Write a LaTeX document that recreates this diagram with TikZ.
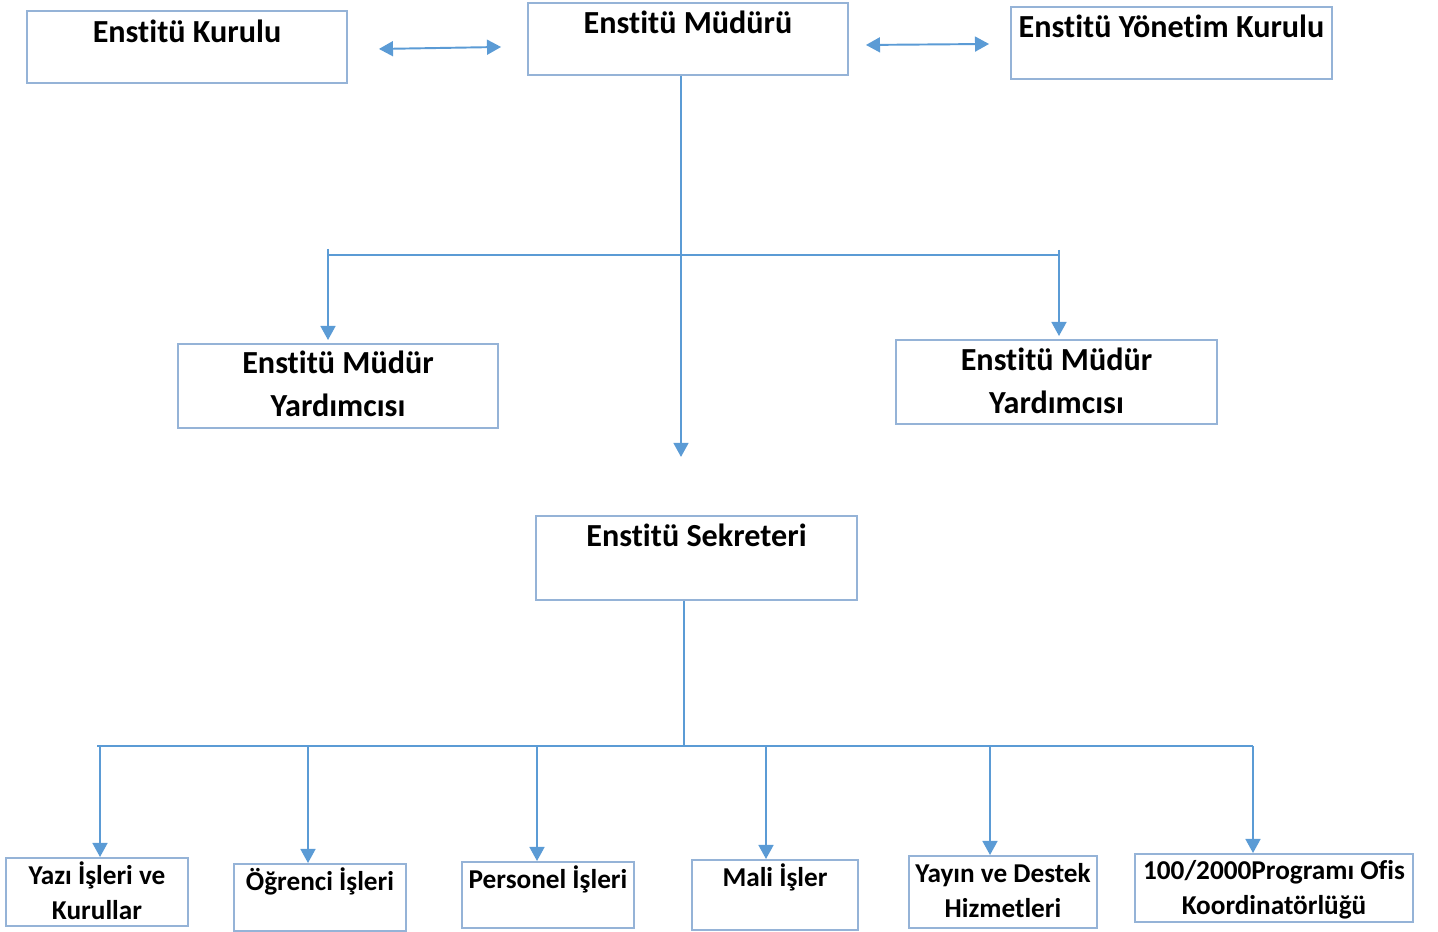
\documentclass[tikz,border=0pt]{standalone}
\usepackage{fontspec}
\setmainfont{Carlito}[Ligatures={NoCommon}]
\usetikzlibrary{positioning, arrows.meta, calc}
\definecolor{boxBlue}{HTML}{95B3D7}
\definecolor{arrowBlue}{HTML}{5B9BD5}
\tikzstyle{orgbox} =[draw=boxBlue, line width=1.1pt, inner sep=0pt, align=flush center, anchor=north, font=\bfseries\fontsize{18.3}{24}\selectfont]
\tikzstyle{unitbox} =[orgbox, font=\bfseries\fontsize{15.5}{19.5}\selectfont]
\tikzstyle{orgarrow} =[-{Triangle[length=8pt,width=8.5pt]}, line width=1.1pt, arrowBlue]
\tikzstyle{orgbiarrow} =[{Triangle[length=8pt,width=8.5pt]}-{Triangle[length=8pt,width=8.5pt]}, line width=1.1pt, arrowBlue]
\tikzstyle{orgline} =[line width=0.7pt, arrowBlue]

\begin{document}
\begin{tikzpicture}[x=0.02cm, y=-0.02cm]
\useasboundingbox (0,0) rectangle (1438,931);

\node (enstKurulu) [orgbox, text width=6.4cm, text height=0.64cm, text depth=0.8cm] at (187,10) {Enstitü Kurulu};
\node (enstMudur) [orgbox, text width=6.4cm, text height=0.62cm, text depth=0.82cm] at (688,2) {Enstitü Müdürü};
\node (enstYonetim) [orgbox, text width=6.42cm, text height=0.62cm, text depth=0.82cm] at (1171.5,6) {Enstitü Yönetim Kurulu};

\draw[orgbiarrow] ($(enstKurulu.east)+(31,2)$) -- ($(enstMudur.west)+(-26,8)$);
\draw[orgbiarrow] ($(enstMudur.east)+(17,6)$) -- ($(enstYonetim.west)+(-21,1)$);

\node (yardLeft) [orgbox, text width=6.4cm, text height=0.6cm, text depth=1.08cm] at (338,343) {Enstitü Müdür\\Yardımcısı};
\node (yardRight) [orgbox, text width=6.42cm, text height=0.62cm, text depth=1.06cm] at (1056.5,339) {Enstitü Müdür\\Yardımcısı};
\node (sekreter) [orgbox, text width=6.42cm, text height=0.62cm, text depth=1.06cm] at (696.5,515) {Enstitü Sekreteri};

\coordinate (split) at ($(enstMudur.south)+(-7,179)$);
\coordinate (mudurEnd) at ($(split)+(0,202)$);
\draw[orgarrow] (enstMudur.south -| split) -- (mudurEnd);
\draw[orgline] ($(yardLeft.north |- split)+(-10,0)$) -- ($(yardRight.north |- split)+(2.5,0)$);
\draw[orgarrow] ($(yardLeft.north |- split)+(-10,-6)$) -- ($(yardLeft.north)+(-10,-3)$);
\draw[orgarrow] ($(yardRight.north |- split)+(2.5,-5)$) -- ($(yardRight.north)+(2.5,-3)$);

\node (yaziIsleri) [unitbox, text width=3.64cm, text height=0.54cm, text depth=0.82cm] at (97,857) {Yazı İşleri ve\\Kurullar};
\node (ogrenciIsleri) [unitbox, text width=3.44cm, text height=0.54cm, text depth=0.8cm] at (320,863) {Öğrenci İşleri};
\node (personelIsleri) [unitbox, text width=3.44cm, text height=0.54cm, text depth=0.78cm] at (548,861) {Personel İşleri};
\node (maliIsler) [unitbox, text width=3.32cm, text height=0.54cm, text depth=0.86cm] at (775,859) {Mali İşler};
\node (yayinHizmet) [unitbox, text width=3.76cm, text height=0.54cm, text depth=0.9cm] at (1003,855) {Yayın ve Destek\\Hizmetleri};
\node (ofisKoord) [unitbox, text width=5.56cm, text height=0.52cm, text depth=0.84cm] at (1274,853) {100/2000Programı Ofis\\Koordinatörlüğü};

\coordinate (hub) at ($(sekreter.south)+(-12.5,145)$);
\draw[orgline] (sekreter.south -| hub) -- (hub);
\draw[orgline] (yaziIsleri.north |- hub) -- ($(ofisKoord.north |- hub)+(-21,0)$);
\draw[orgarrow] ($(yaziIsleri.north |- hub)+(3,0)$) -- ($(yaziIsleri.north)+(3,0)$);
\draw[orgarrow] ($(ogrenciIsleri.north |- hub)+(-12,0)$) -- ($(ogrenciIsleri.north)+(-12,0)$);
\draw[orgarrow] ($(personelIsleri.north |- hub)+(-11,0)$) -- ($(personelIsleri.north)+(-11,0)$);
\draw[orgarrow] ($(maliIsler.north |- hub)+(-9,0)$) -- ($(maliIsler.north)+(-9,0)$);
\draw[orgarrow] ($(yayinHizmet.north |- hub)+(-13,0)$) -- ($(yayinHizmet.north)+(-13,0)$);
\draw[orgarrow] ($(ofisKoord.north |- hub)+(-21,0)$) -- ($(ofisKoord.north)+(-21,0)$);
\end{tikzpicture}
\end{document}
